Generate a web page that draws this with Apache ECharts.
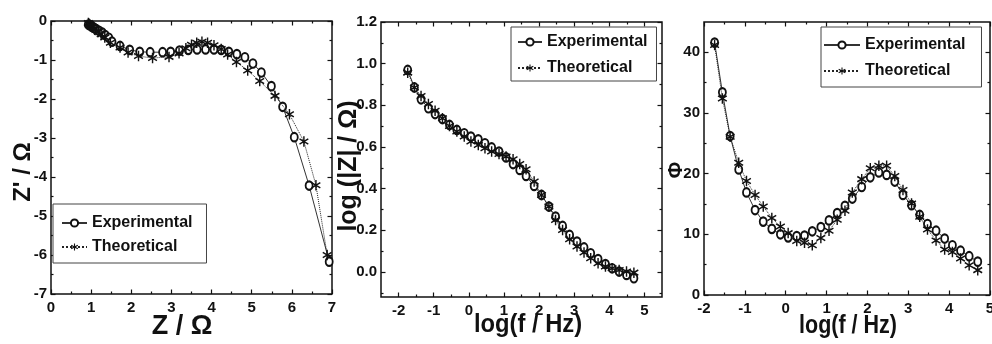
<!DOCTYPE html>
<html>
<head>
<meta charset="utf-8">
<script src="https://cdn.jsdelivr.net/npm/echarts@6/dist/echarts.min.js"></script>
<style>
  html, body { margin: 0; padding: 0; background: #fff; }
  #chart { width: 992px; height: 344px; }
</style>
</head>
<body>
<div id="chart"></div>
<script>
// ---- impedance data ----
const seriesNames = ['Experimental', 'Theoretical'];

// log10(f / Hz) of the measured frequencies
const logFreq = [-1.74, -1.55, -1.36, -1.15, -0.96, -0.75, -0.55, -0.34, -0.13, 0.06, 0.27, 0.46, 0.65,
  0.86, 1.06, 1.26, 1.45, 1.63, 1.86, 2.07, 2.28, 2.47, 2.67, 2.87, 3.08, 3.28, 3.47, 3.68, 3.89, 4.08,
  4.28, 4.49, 4.70];

// log(|Z| / Ohm)
const magExp = [0.970, 0.886, 0.829, 0.786, 0.758, 0.734, 0.706, 0.682, 0.666, 0.650, 0.637, 0.618,
  0.598, 0.578, 0.550, 0.518, 0.490, 0.461, 0.413, 0.370, 0.314, 0.266, 0.221, 0.178, 0.146, 0.118,
  0.090, 0.062, 0.038, 0.018, 0.002, -0.014, -0.030];
const magFit = [0.957, 0.886, 0.845, 0.806, 0.774, 0.738, 0.701, 0.674, 0.650, 0.626, 0.610, 0.594,
  0.578, 0.566, 0.554, 0.541, 0.518, 0.493, 0.434, 0.370, 0.314, 0.250, 0.202, 0.157, 0.122, 0.094,
  0.066, 0.042, 0.026, 0.018, 0.010, 0.002, -0.003];

// phase angle (degrees)
const phaseExp = [41.6, 33.4, 26.2, 20.7, 16.9, 14.0, 12.1, 10.9, 10.0, 9.5, 9.7, 9.8, 10.5, 11.2, 12.3,
  13.5, 14.7, 15.9, 17.8, 19.4, 20.2, 19.8, 18.7, 16.5, 14.8, 13.2, 11.7, 10.6, 9.3, 8.2, 7.3, 6.4, 5.5];
const phaseFit = [41.2, 32.4, 26.1, 21.8, 18.8, 16.5, 14.6, 12.7, 11.3, 10.2, 8.9, 8.6, 8.2, 9.4, 10.6,
  12.4, 13.9, 16.9, 19.1, 20.9, 21.3, 21.3, 19.6, 17.3, 15.1, 12.9, 10.8, 9.0, 7.5, 7.1, 6.0, 4.9, 4.1];

// complex plane: Z (real part) and Z' (imaginary part), Ohm
const reExp = [0.93, 0.96, 1.00, 1.03, 1.08, 1.13, 1.20, 1.28, 1.35, 1.44, 1.52, 1.72, 1.96, 2.21, 2.47,
  2.78, 2.98, 3.20, 3.42, 3.64, 3.85, 4.06, 4.24, 4.43, 4.63, 4.83, 5.03, 5.24, 5.49, 5.77, 6.06, 6.43, 6.93];
const imExp = [-0.09, -0.11, -0.13, -0.15, -0.18, -0.21, -0.25, -0.30, -0.36, -0.43, -0.53, -0.64, -0.74,
  -0.79, -0.80, -0.80, -0.79, -0.76, -0.74, -0.73, -0.73, -0.73, -0.74, -0.79, -0.85, -0.93, -1.09, -1.32,
  -1.67, -2.20, -2.98, -4.22, -6.17];
const reFit = [0.93, 0.95, 0.97, 1.00, 1.03, 1.07, 1.12, 1.18, 1.25, 1.34, 1.48, 1.72, 1.92, 2.18, 2.53,
  2.94, 3.19, 3.36, 3.50, 3.63, 3.76, 3.90, 4.06, 4.24, 4.40, 4.62, 4.90, 5.20, 5.58, 5.94, 6.30, 6.60, 6.88];
const imFit = [-0.05, -0.07, -0.09, -0.12, -0.15, -0.19, -0.23, -0.28, -0.34, -0.42, -0.56, -0.68, -0.81,
  -0.90, -0.95, -0.92, -0.83, -0.70, -0.61, -0.56, -0.53, -0.56, -0.62, -0.72, -0.86, -1.05, -1.27, -1.54,
  -1.92, -2.39, -3.09, -4.21, -6.00];

// ---- tick values ----
const nyqXMajor = [0, 1, 2, 3, 4, 5, 6, 7];
const nyqXMinor = [0.5, 1.5, 2.5, 3.5, 4.5, 5.5, 6.5];
const nyqYMajor = [0, -1, -2, -3, -4, -5, -6, -7];
const nyqYMinor = [-0.5, -1.5, -2.5, -3.5, -4.5, -5.5, -6.5];
const magXMajor = [-2, -1, 0, 1, 2, 3, 4, 5];
const magXMinor = [-1.5, -0.5, 0.5, 1.5, 2.5, 3.5, 4.5];
const magYMajor = [0, 0.2, 0.4, 0.6, 0.8, 1.0, 1.2];
const magYMinor = [-0.1, 0.1, 0.3, 0.5, 0.7, 0.9, 1.1];
const phXMajor = [-2, -1, 0, 1, 2, 3, 4, 5];
const phXMinor = [-1.5, -0.5, 0.5, 1.5, 2.5, 3.5, 4.5];
const phYMajor = [0, 10, 20, 30, 40];
const phYMinor = [5, 15, 25, 35];

// ---- styling ----
const INK = '#111';
const labelFont = "'Liberation Sans', Arial, sans-serif";
const starPath = 'path://M-0.7,-5L0.7,-5L0.7,5L-0.7,5Z' +
  'M3.98,-3.106L4.68,-1.894L-3.98,3.106L-4.68,1.894Z' +
  'M-4.68,-1.894L-3.98,-3.106L4.68,1.894L3.98,3.106Z';

const xAxes = [];
const yAxes = [];

function tickAxis(gridIndex, position, min, max, values, len, label) {
  const ax = {
    type: 'value', gridIndex, position, min, max,
    axisLine: { show: false, onZero: false },
    splitLine: { show: false },
    axisTick: { show: true, inside: true, length: len, customValues: values,
      lineStyle: { color: INK, width: 1.2 } },
    axisLabel: { show: false }
  };
  if (label) {
    ax.axisLabel = {
      show: true, customValues: values, formatter: label.fmt, margin: label.margin,
      fontFamily: labelFont, fontWeight: 'bold', fontSize: 15, color: INK
    };
  }
  return ax;
}

// builds a framed panel's axes (ticks on all four sides) and returns the data axis indices
function panelAxes(g, xr, yr, xMaj, xMin, yMaj, yMin, xFmt, yFmt) {
  const xi = xAxes.length, yi = yAxes.length;
  xAxes.push(tickAxis(g, 'bottom', xr[0], xr[1], xMaj, 4.5, { fmt: xFmt, margin: 6 }));
  xAxes.push(tickAxis(g, 'bottom', xr[0], xr[1], xMin, 2.5));
  xAxes.push(tickAxis(g, 'top', xr[0], xr[1], xMaj, 4.5));
  xAxes.push(tickAxis(g, 'top', xr[0], xr[1], xMin, 2.5));
  yAxes.push(tickAxis(g, 'left', yr[0], yr[1], yMaj, 4.5, { fmt: yFmt, margin: 4 }));
  yAxes.push(tickAxis(g, 'left', yr[0], yr[1], yMin, 2.5));
  yAxes.push(tickAxis(g, 'right', yr[0], yr[1], yMaj, 4.5));
  yAxes.push(tickAxis(g, 'right', yr[0], yr[1], yMin, 2.5));
  return { xi, yi };
}

const intFmt = v => String(Math.round(v));
const oneDec = v => v.toFixed(1);

const p0 = panelAxes(0, [0, 7], [-7, 0], nyqXMajor, nyqXMinor, nyqYMajor, nyqYMinor, intFmt, intFmt);
const p1 = panelAxes(1, [-2.5, 5.5], [-0.12, 1.2], magXMajor, magXMinor, magYMajor, magYMinor, intFmt, oneDec);
const p2 = panelAxes(2, [-2, 5], [0, 45], phXMajor, phXMinor, phYMajor, phYMinor, intFmt, intFmt);

function pairs(xs, ys) { return xs.map((x, i) => [x, ys[i]]); }

function expSeries(p, data) {
  return {
    name: seriesNames[0], type: 'line', xAxisIndex: p.xi, yAxisIndex: p.yi, data,
    symbol: 'emptyCircle', symbolSize: [7, 8.5],
    lineStyle: { color: '#333', width: 1 },
    itemStyle: { color: INK, borderColor: INK, borderWidth: 1 },
    z: 2
  };
}
function fitSeries(p, data) {
  return {
    name: seriesNames[1], type: 'line', xAxisIndex: p.xi, yAxisIndex: p.yi, data,
    symbol: starPath, symbolSize: [9.5, 10.5],
    lineStyle: { color: '#222', width: 1, type: 'dotted' },
    itemStyle: { color: INK, borderWidth: 0 },
    z: 3
  };
}

function legendAt(left, top, padding, itemWidth, itemGap) {
  return {
    data: seriesNames, orient: 'vertical', left, top, padding, itemWidth, itemHeight: 9, itemGap,
    borderColor: '#444', borderWidth: 1, backgroundColor: '#fff',
    selectedMode: false,
    textStyle: { fontFamily: labelFont, fontWeight: 'bold', fontSize: 16, color: INK, lineHeight: 16 }
  };
}

function title(x, y, text, size, rot, sx) {
  return {
    type: 'text', x, y, rotation: rot || 0, scaleX: sx || 1, silent: true,
    style: {
      text, fill: INK, font: 'bold ' + size + 'px ' + labelFont,
      align: 'center', verticalAlign: 'middle', textAlign: 'center', textVerticalAlign: 'middle'
    }
  };
}

const option = {
  animation: false,
  backgroundColor: '#fff',
  grid: [
    { left: 51, top: 21, width: 281, height: 273 },
    { left: 381, top: 22, width: 281, height: 275 },
    { left: 704, top: 22, width: 286, height: 273 }
  ].map(g => Object.assign(g, { show: true, borderColor: INK, borderWidth: 1.5,
    backgroundColor: 'transparent', containLabel: false, outerBoundsMode: 'none' })),
  xAxis: xAxes,
  yAxis: yAxes,
  legend: [
    legendAt(53, 204, [11, 14, 8, 8], 25, 8),
    legendAt(511, 27, [7, 9, 5, 6], 24, 10),
    legendAt(821, 27, [10, 16, 8, 2], 36, 10)
  ],
  series: [
    expSeries(p0, pairs(reExp, imExp)),
    fitSeries(p0, pairs(reFit, imFit)),
    expSeries(p1, pairs(logFreq, magExp)),
    fitSeries(p1, pairs(logFreq, magFit)),
    expSeries(p2, pairs(logFreq, phaseExp)),
    fitSeries(p2, pairs(logFreq, phaseFit))
  ],
  graphic: [
    title(23, 172, "Z' / \u03A9", 24, Math.PI / 2),
    title(182, 327, 'Z / \u03A9', 27),
    title(349, 166, 'log (|Z| / \u03A9)', 25, Math.PI / 2),
    title(528, 325, 'log(f / Hz)', 25, 0, 0.95),
    title(676, 170, '\u03A6', 20, Math.PI / 2),
    title(848, 326, 'log(f / Hz)', 25, 0, 0.86)
  ]
};

const chart = echarts.init(document.getElementById('chart'), null, { renderer: 'canvas' });
chart.setOption(option);
</script>
</body>
</html>
